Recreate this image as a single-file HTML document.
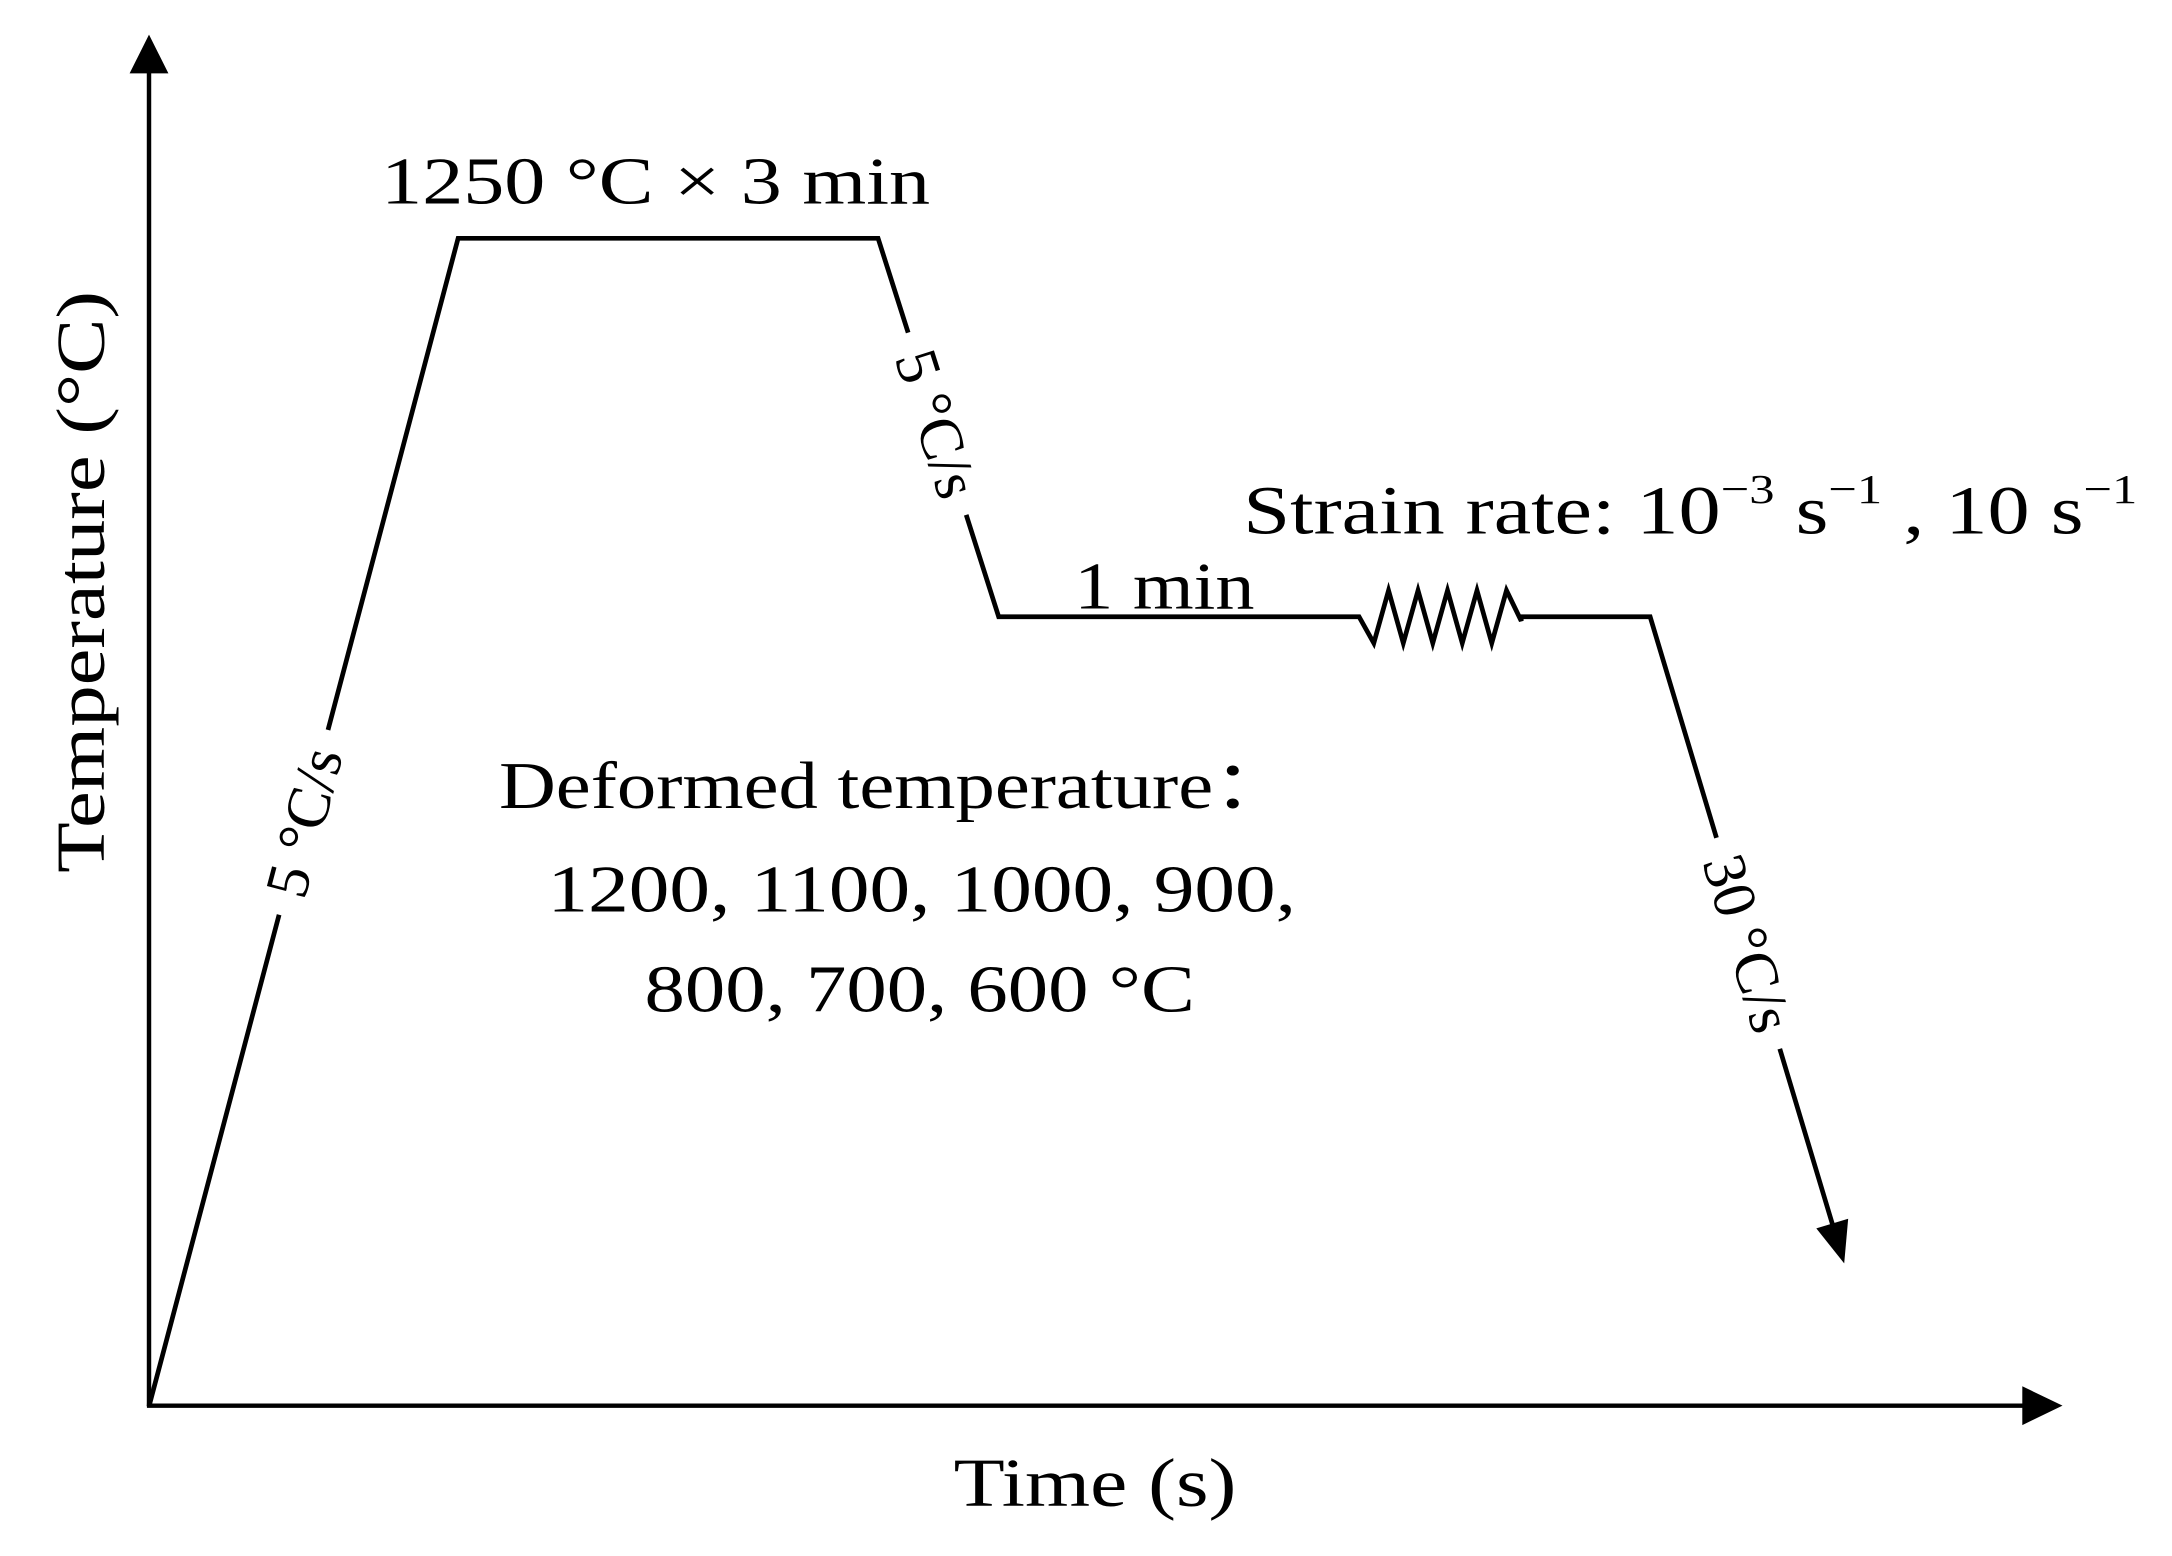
<!DOCTYPE html>
<html><head><meta charset="utf-8">
<style>
html,body{margin:0;padding:0;background:#fff;}
svg{display:block;}
text{font-family:"Liberation Serif",serif;fill:#000;}
</style></head>
<body>
<svg id="chart" width="2172" height="1556" viewBox="0 0 1567 1123" preserveAspectRatio="none" xmlns="http://www.w3.org/2000/svg">
<rect width="1567" height="1123" fill="#fff"/>
<g id="axes">
  <line x1="107.5" y1="1015" x2="107.5" y2="50" stroke="#000" stroke-width="3.2"/>
  <polygon points="107.5,25 93.5,53 121.5,53" fill="#000"/>
  <line x1="106" y1="1014.5" x2="1465" y2="1014.5" stroke="#000" stroke-width="3.2"/>
  <polygon points="1488,1014.5 1459,1000.5 1459,1028.5" fill="#000"/>
</g>
<g id="series"></g>
<g id="labels">
  <text x="275" y="147" font-size="48" textLength="396" lengthAdjust="spacingAndGlyphs">1250 °C × 3 min</text>
  <text x="897" y="385" font-size="50" textLength="645" lengthAdjust="spacingAndGlyphs">Strain rate: 10<tspan font-size="30" dy="-22">−3</tspan><tspan dy="22"> s</tspan><tspan font-size="30" dy="-22">−1</tspan><tspan dy="22"> , 10 s</tspan><tspan font-size="30" dy="-22">−1</tspan></text>
  <text x="775" y="439" font-size="48" textLength="130" lengthAdjust="spacingAndGlyphs">1 min</text>
  <text x="360" y="583" font-size="48" textLength="572" lengthAdjust="spacingAndGlyphs">Deformed temperature：</text>
  <text x="395" y="658" font-size="48" textLength="540" lengthAdjust="spacingAndGlyphs">1200, 1100, 1000, 900,</text>
  <text x="465" y="730" font-size="48" textLength="397" lengthAdjust="spacingAndGlyphs">800, 700, 600 °C</text>
  <text x="688" y="1087" font-size="50" textLength="204" lengthAdjust="spacingAndGlyphs">Time (s)</text>
  <text transform="translate(75,420) rotate(-90)" text-anchor="middle" font-size="50" textLength="420" lengthAdjust="spacingAndGlyphs">Temperature (°C)</text>
</g>
</svg>
<script>
// Schedule data (time in px-units from origin, temperature in °C)
var stageTimes = [0, 223, 526, 613, 873, 990, 1083, 1223];
var stageTemps = [0, 1250, 1250, 845, 845, 845, 845, 153];
var rateLabels = ["5 °C/s", "5 °C/s", "30 °C/s"];
var rateSegments = [0, 2, 6];

var X0 = 107.5, Y0 = 1015, KT = 843 / 1250;
function xScale(t) { return X0 + t; }
function yScale(T) { return Y0 - T * KT; }

var NS = "http://www.w3.org/2000/svg";
var g = document.getElementById('series');
var pts = [];
for (var i = 0; i < stageTimes.length; i++) {
  pts.push([xScale(stageTimes[i]), yScale(stageTemps[i])]);
}

var d = "M" + pts[0][0] + "," + pts[0][1];
for (var i = 1; i < pts.length; i++) {
  if (i === 5) {
    var xa = pts[4][0], xb = pts[5][0], y = pts[4][1];
    var n = 11, w = (xb - xa) / n;
    for (var k = 1; k < n; k++) {
      var yy = (k % 2 === 1) ? y + 19 : y - 19;
      d += " L" + (xa + k * w) + "," + yy;
    }
    d += " L" + xb + "," + (y + 3) + " L" + xb + "," + y;
  } else if (i === pts.length - 1) {
    var a = pts[i - 1], b = pts[i];
    var L = Math.sqrt((b[0] - a[0]) * (b[0] - a[0]) + (b[1] - a[1]) * (b[1] - a[1]));
    var f = (L - 26) / L;
    d += " L" + (a[0] + (b[0] - a[0]) * f) + "," + (a[1] + (b[1] - a[1]) * f);
  } else {
    d += " L" + pts[i][0] + "," + pts[i][1];
  }
}
var path = document.createElementNS(NS, 'path');
path.setAttribute('d', d);
path.setAttribute('fill', 'none');
path.setAttribute('stroke', '#000');
path.setAttribute('stroke-width', '3.4');


g.appendChild(path);

(function () {
  var a = pts[pts.length - 2], b = pts[pts.length - 1];
  var ang = Math.atan2(b[1] - a[1], b[0] - a[0]);
  var len = 30, hw = 12;
  var bx = b[0] - len * Math.cos(ang), by = b[1] - len * Math.sin(ang);
  var px = -Math.sin(ang) * hw, py = Math.cos(ang) * hw;
  var head = document.createElementNS(NS, 'polygon');
  head.setAttribute('points', b[0] + "," + b[1] + " " + (bx + px) + "," + (by + py) + " " + (bx - px) + "," + (by - py));
  head.setAttribute('fill', '#000');
  
  
  g.appendChild(head);
})();

var labelFrac = [0.5, 0.49, 0.505];
for (var j = 0; j < rateSegments.length; j++) {
  var si = rateSegments[j];
  var a = pts[si], b = pts[si + 1];
  var cx = a[0] + (b[0] - a[0]) * labelFrac[j];
  var cy = a[1] + (b[1] - a[1]) * labelFrac[j];
  var ang = Math.atan2(b[1] - a[1], b[0] - a[0]) * 180 / Math.PI;
  if (ang < -90) ang += 180;
  var grp = document.createElementNS(NS, 'g');
  grp.setAttribute('transform', 'translate(' + cx + ',' + cy + ') rotate(' + ang + ')');
  
  
  var tw = rateLabels[j].length * 21 + 12;
  var bg = document.createElementNS(NS, 'rect');
  bg.setAttribute('x', -tw / 2);
  bg.setAttribute('y', -14);
  bg.setAttribute('width', tw);
  bg.setAttribute('height', 28);
  bg.setAttribute('fill', '#fff');
  grp.appendChild(bg);
  var t = document.createElementNS(NS, 'text');
  t.setAttribute('x', 0);
  t.setAttribute('y', 15);
  t.setAttribute('text-anchor', 'middle');
  t.setAttribute('font-size', '44');
  t.textContent = rateLabels[j];
  
  
  grp.appendChild(t);
  g.appendChild(grp);
}
</script>
</body></html>
